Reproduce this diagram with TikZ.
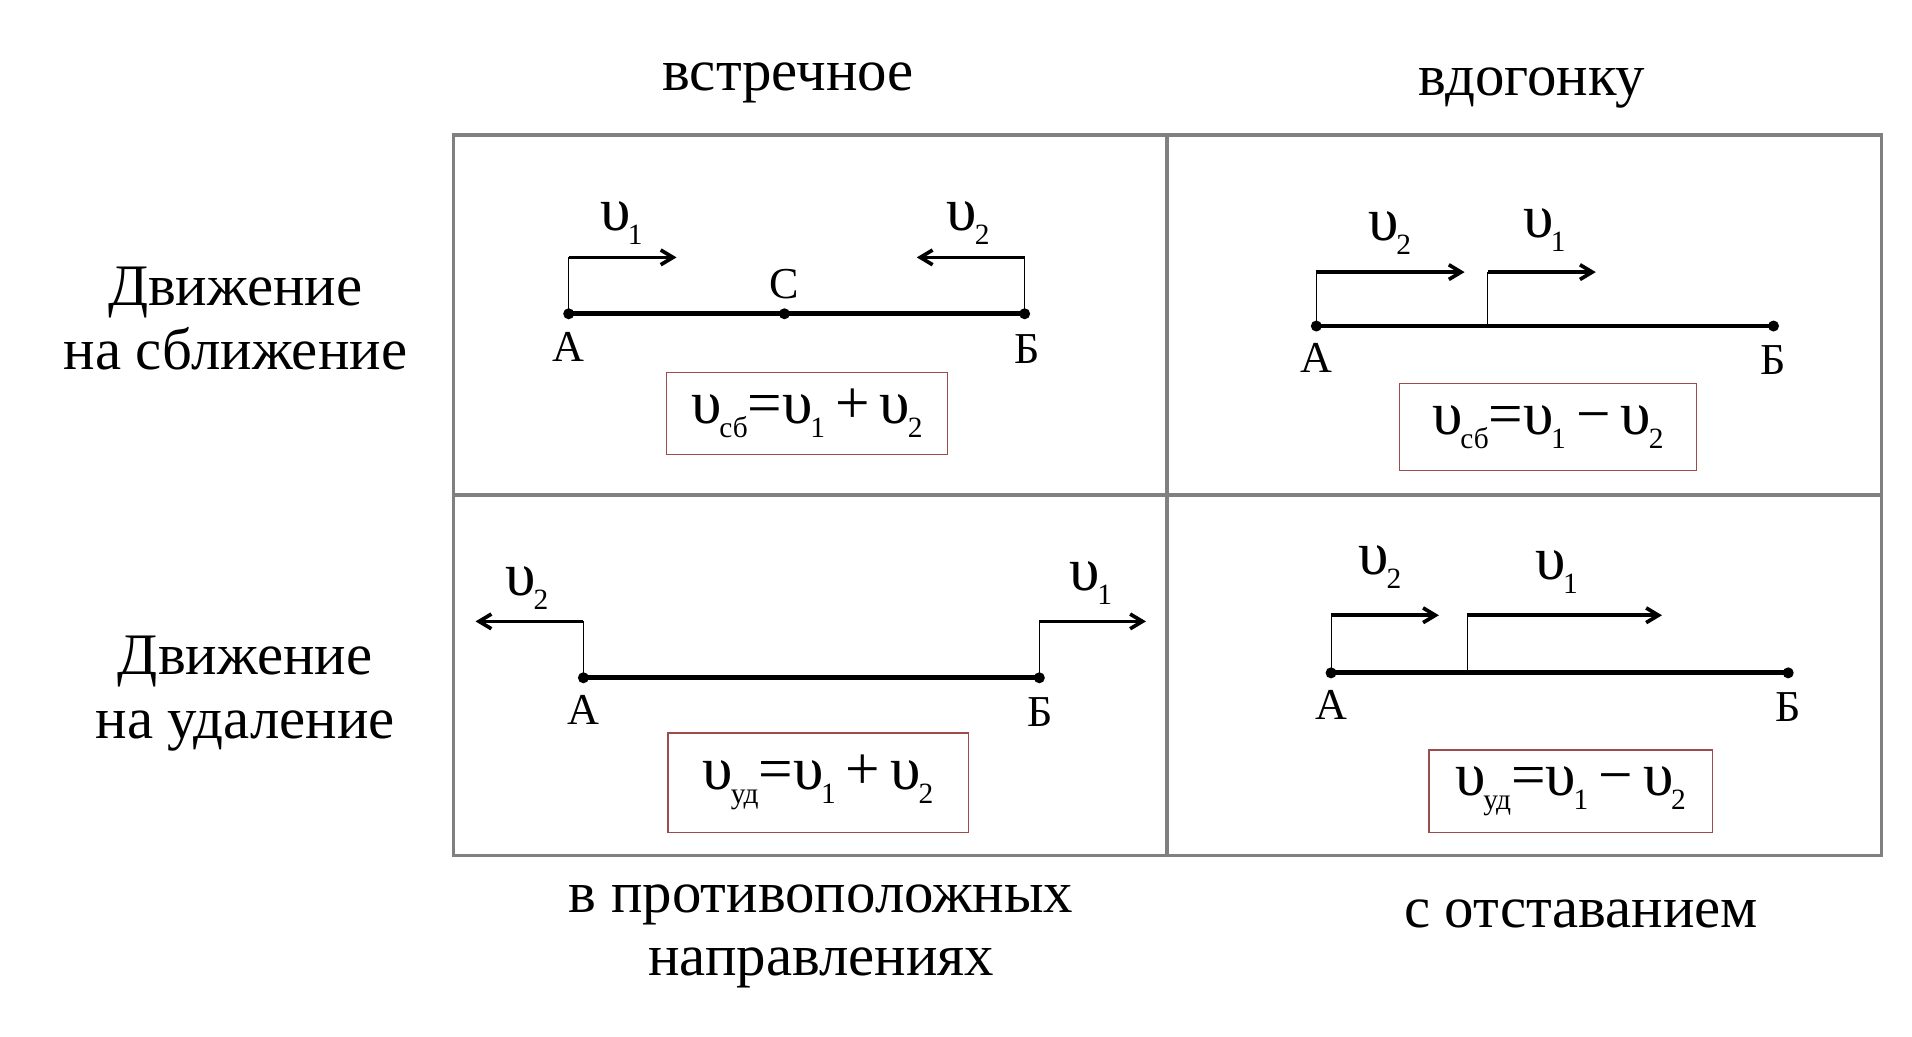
\documentclass[tikz,border=0pt]{standalone}
\usepackage{fontspec}
\setmainfont{Liberation Serif}
\usetikzlibrary{arrows.meta}
\newcommand\vsub[1]{υ\kern-0.04em\raisebox{-0.5ex}{\fontsize{12}{12}\selectfont #1}}
\begin{document}
\begin{tikzpicture}[x=0.5pt,y=-0.5pt,
  grid/.style={draw=black!50,line width=1.4pt},
  seg/.style={line width=2pt},
  thin/.style={line width=0.4pt},
  varr/.style={line width=1.5pt,-{Straight Barb[length=5pt,width=6pt]}},
  dotn/.style={circle,fill,inner sep=0pt,minimum size=4.5pt},
  lbl/.style={font=\fontsize{18}{18}\selectfont,inner sep=0pt},
  vl/.style={font=\fontsize{25}{25}\selectfont,inner sep=0pt},
  big/.style={font=\fontsize{24}{26}\selectfont,align=center,inner sep=0pt},
  fbox/.style={draw=red!45!black!70,line width=0.5pt,font=\fontsize{25}{25}\selectfont,inner sep=0pt}]
\useasboundingbox (0,0) rectangle (1560,846);
\draw[grid] (370,110) rectangle (1535,698);
\draw[grid] (952,110) -- (952,698);
\draw[grid] (370,404) -- (1535,404);
\node[big] (h1) at (643,68) {встречное};
\node[big] (h2) at (1250,72) {вдогонку};
\node[big] (r1) at (192,260) {Движение\\на сближение};
\node[big] (r2) at (200,566) {Движение\\на удаление};
\node[big] (b1) at (670,764) {в противоположных\\направлениях};
\node[big] (b2) at (1290,746) {с отставанием};
% cell 1
\node[dotn] (a1) at (464,256) {}; \node[dotn] (c1) at (640,256) {}; \node[dotn] (b1p) at (836,256) {};
\draw[seg] (a1.center) -- (b1p.center);
\node[lbl] at (464,283) {А}; \node[lbl] at (838,285) {Б}; \node[lbl] at (640,232) {С};
\coordinate (a1t) at (464,210); \coordinate (a1e) at (552,210);
\coordinate (b1t) at (836,210); \coordinate (b1e) at (748,210);
\draw[thin] (a1.center) -- (a1t); \draw[varr] (a1t) -- (a1e);
\draw[thin] (b1p.center) -- (b1t); \draw[varr] (b1t) -- (b1e);
\node[vl] at (507,182) {\vsub{1}}; \node[vl] at (790,182) {\vsub{2}};
\node[fbox,minimum width=114.5pt,minimum height=33.5pt] at (658.5,337.5) {\vsub{сб}=\vsub{1}\,+\,\vsub{2}};
% cell 2
\node[dotn] (a2) at (1074,266) {}; \node[dotn] (b2p) at (1447,266) {};
\draw[seg] (a2.center) -- (b2p.center);
\coordinate (m2) at (1214,266);
\node[lbl] at (1074,292) {А}; \node[lbl] at (1447,294) {Б};
\coordinate (a2t) at (1074,222); \coordinate (a2e) at (1195,222);
\coordinate (m2t) at (1214,222); \coordinate (m2e) at (1302,222);
\draw[thin] (a2.center) -- (a2t); \draw[varr] (a2t) -- (a2e);
\draw[thin] (m2) -- (m2t); \draw[varr] (m2t) -- (m2e);
\node[vl] at (1134,190) {\vsub{2}}; \node[vl] at (1260,188) {\vsub{1}};
\node[fbox,minimum width=121pt,minimum height=35.5pt] at (1263,348.5) {\vsub{сб}=\vsub{1}\,−\,\vsub{2}};
% cell 3
\node[dotn] (a3) at (476,553) {}; \node[dotn] (b3p) at (848,553) {};
\draw[seg] (a3.center) -- (b3p.center);
\node[lbl] at (476,579) {А}; \node[lbl] at (849,581) {Б};
\coordinate (a3t) at (476,507); \coordinate (a3e) at (388,507);
\coordinate (b3t) at (848,507); \coordinate (b3e) at (935,507);
\draw[thin] (a3.center) -- (a3t); \draw[varr] (a3t) -- (a3e);
\draw[thin] (b3p.center) -- (b3t); \draw[varr] (b3t) -- (b3e);
\node[vl] at (430,480) {\vsub{2}}; \node[vl] at (890,476) {\vsub{1}};
\node[fbox,minimum width=122.5pt,minimum height=40.5pt] at (667.5,638.5) {\vsub{уд}=\vsub{1}\,+\,\vsub{2}};
% cell 4
\node[dotn] (a4) at (1086,549) {}; \node[dotn] (b4p) at (1459,549) {};
\draw[seg] (a4.center) -- (b4p.center);
\coordinate (m4) at (1197,549);
\node[lbl] at (1086,575) {А}; \node[lbl] at (1459,577) {Б};
\coordinate (a4t) at (1086,502); \coordinate (a4e) at (1174,502);
\coordinate (m4t) at (1197,502); \coordinate (m4e) at (1356,502);
\draw[thin] (a4.center) -- (a4t); \draw[varr] (a4t) -- (a4e);
\draw[thin] (m4) -- (m4t); \draw[varr] (m4t) -- (m4e);
\node[vl] at (1126,463) {\vsub{2}}; \node[vl] at (1270,467) {\vsub{1}};
\node[fbox,minimum width=115.5pt,minimum height=33.5pt] at (1281.5,645.5) {\vsub{уд}=\vsub{1}\,−\,\vsub{2}};
\end{tikzpicture}
\end{document}
